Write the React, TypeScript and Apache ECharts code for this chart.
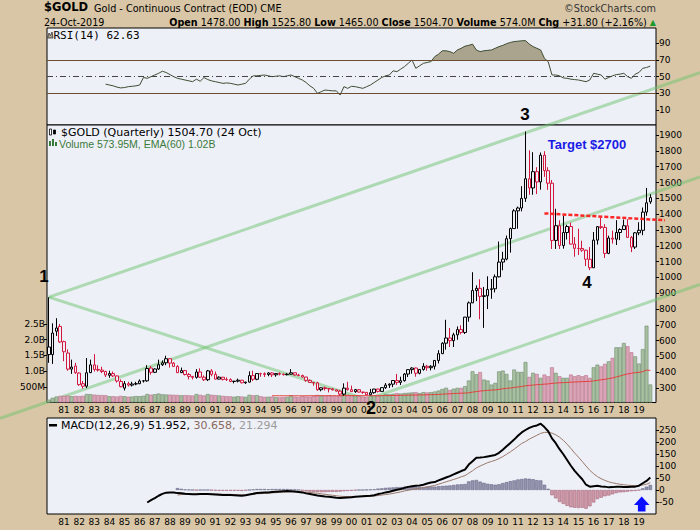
import React, { useEffect, useRef } from "react";
import * as echarts from "echarts";

// ---------------- DATA ----------------
const FIRST_YEAR = 1980;
const LAST_YEAR = 2019;

const OPEN = [
  560, 512, 660, 690, 594, 522, 420, 440, 395, 328, 312, 398, 447, 418, 414, 405,
  381, 392, 377, 342, 300, 328, 319, 326, 328, 345, 346, 427, 400, 421, 448, 460,
  486, 458, 437, 398, 411, 386, 374, 368, 402, 369, 353, 409, 387, 357, 369, 355,
  354, 342, 344, 350, 334, 338, 379, 356, 392, 391, 386, 396, 384, 392, 388, 385,
  388, 397, 383, 380, 370, 349, 336, 333, 290, 302, 297, 295, 289, 281, 262, 300,
  290, 278, 290, 275, 273, 258, 271, 294, 279, 303, 319, 325, 348, 336, 347, 389,
  417, 427, 394, 418, 438, 429, 438, 475, 518, 584, 617, 600, 637, 670, 652, 749,
  839, 917, 931, 880, 884, 924, 928, 1004, 1097, 1116, 1245, 1309, 1421, 1439, 1500, 1624,
  1566, 1669, 1604, 1773, 1675, 1596, 1234, 1327, 1202, 1284, 1322, 1211, 1184, 1183, 1172, 1115,
  1061, 1236, 1321, 1316, 1152, 1249, 1242, 1284, 1303, 1327, 1253, 1192, 1282, 1298, 1413, 1478,
];
const HIGH = [
  875, 710, 742, 705, 600, 545, 480, 460, 400, 345, 490, 480, 515, 445, 435, 410,
  410, 405, 380, 355, 345, 340, 340, 340, 355, 350, 445, 440, 425, 480, 475, 505,
  488, 465, 445, 430, 415, 395, 375, 420, 425, 380, 415, 420, 405, 375, 370, 368,
  362, 345, 360, 352, 340, 406, 410, 395, 397, 400, 400, 400, 395, 400, 392, 395,
  420, 398, 390, 385, 371, 355, 338, 340, 305, 310, 300, 300, 292, 290, 330, 340,
  316, 295, 293, 276, 275, 295, 295, 296, 305, 332, 330, 350, 390, 372, 395, 418,
  432, 430, 420, 458, 447, 445, 476, 540, 590, 732, 680, 650, 690, 697, 750, 848,
  1033, 950, 988, 940, 1007, 990, 1019, 1227, 1162, 1265, 1315, 1432, 1448, 1577, 1923, 1804,
  1792, 1697, 1790, 1798, 1697, 1616, 1434, 1361, 1392, 1333, 1346, 1255, 1308, 1232, 1175, 1192,
  1287, 1325, 1377, 1337, 1264, 1296, 1362, 1311, 1366, 1369, 1262, 1287, 1349, 1442, 1566, 1525.8,
];
const LOW = [
  460, 453, 630, 585, 470, 410, 390, 390, 315, 297, 300, 395, 405, 405, 395, 370,
  365, 370, 335, 305, 285, 310, 310, 318, 325, 335, 340, 385, 395, 415, 440, 445,
  430, 435, 395, 395, 380, 355, 355, 360, 365, 345, 345, 375, 355, 355, 348, 345,
  338, 330, 336, 330, 326, 335, 345, 350, 372, 370, 375, 370, 372, 380, 380, 380,
  385, 378, 375, 366, 340, 334, 315, 283, 280, 285, 273, 285, 280, 252, 252, 285,
  275, 270, 272, 264, 255, 255, 265, 272, 278, 295, 301, 306, 320, 320, 341, 370,
  391, 372, 387, 410, 410, 412, 418, 456, 515, 543, 560, 560, 606, 640, 642, 720,
  838, 850, 735, 681, 800, 865, 905, 1000, 1045, 1108, 1157, 1308, 1308, 1418, 1478, 1523,
  1523, 1527, 1555, 1636, 1554, 1180, 1180, 1180, 1182, 1240, 1208, 1131, 1142, 1162, 1072, 1046,
  1060, 1208, 1306, 1123, 1147, 1214, 1205, 1236, 1303, 1250, 1160, 1180, 1267, 1267, 1390, 1465,
];
const CLOSE = [
  512, 648, 680, 592, 530, 420, 433, 398, 322, 312, 397, 447, 418, 414, 405, 383,
  392, 377, 345, 309, 328, 319, 326, 328, 345, 346, 424, 400, 421, 448, 460, 486,
  458, 437, 398, 411, 386, 374, 368, 402, 369, 353, 409, 387, 357, 369, 355, 354,
  342, 344, 350, 334, 338, 379, 356, 392, 391, 386, 396, 384, 392, 388, 385, 388,
  397, 383, 380, 370, 349, 336, 333, 290, 302, 297, 295, 289, 281, 262, 300, 290,
  278, 290, 275, 273, 258, 271, 294, 279, 303, 319, 325, 348, 336, 347, 389, 417,
  427, 394, 418, 438, 429, 438, 475, 518, 584, 617, 600, 637, 670, 652, 749, 839,
  917, 931, 880, 884, 924, 928, 1004, 1097, 1116, 1245, 1309, 1421, 1439, 1500, 1624, 1566,
  1669, 1604, 1773, 1675, 1596, 1234, 1327, 1202, 1284, 1322, 1211, 1184, 1183, 1172, 1115, 1061,
  1236, 1321, 1316, 1152, 1249, 1242, 1284, 1303, 1327, 1253, 1192, 1282, 1298, 1413, 1472, 1504.7,
];
// quarterly volume, millions
const VOLUME = [
  90, 150, 190, 210, 215, 220, 200, 210, 205, 215, 270, 265, 250, 240, 235, 230,
  200, 200, 190, 210, 200, 185, 190, 205, 200, 215, 270, 250, 265, 285, 260, 255,
  250, 245, 240, 230, 235, 230, 220, 270, 245, 225, 270, 245, 235, 225, 210, 200,
  195, 185, 200, 190, 180, 245, 230, 235, 200, 180, 185, 190, 170, 165, 170, 175,
  230, 185, 175, 200, 190, 185, 210, 240, 220, 200, 230, 210, 200, 220, 280, 250,
  220, 215, 200, 190, 185, 200, 220, 200, 230, 270, 260, 280, 300, 285, 300, 310,
  320, 330, 300, 330, 320, 330, 350, 380, 430, 470, 400, 440, 466, 466, 520, 700,
  995, 900, 970, 730, 700, 570, 625, 990, 1015, 910, 700, 1050, 975, 975, 1290, 815,
  945, 910, 785, 890, 835, 1120, 945, 835, 785, 785, 890, 835, 870, 835, 870, 785,
  1120, 1205, 1150, 1230, 1310, 1420, 1757, 1757, 1894, 1790, 1600, 1470, 1240, 1700, 2445, 574,
];
const VOL_EMA_START = 59;
const VOL_EMA = [
  215,
  215, 214, 213, 213, 214, 214, 213, 213, 213, 214,
  215, 216, 216, 216, 217, 217, 217, 217, 219, 220,
  220, 220, 219, 218, 217, 217, 217, 217, 218, 220,
  221, 223, 226, 228, 230, 233, 236, 239, 241, 244,
  247, 250, 253, 258, 265, 273, 278, 285, 291, 297,
  300, 310, 330, 347, 365, 375, 388, 394, 400, 418,
  436, 451, 460, 478, 494, 509, 534, 543, 556, 567,
  574, 584, 592, 609, 620, 627, 632, 638, 646, 652,
  658, 664, 670, 674, 688, 705, 722, 740, 760, 782,
  814, 845, 880, 910, 932, 950, 960, 983, 1032, 1020,
];
const RSI_START = 15;
const RSI = [
  41, 40, 39, 37.5, 36.5, 37, 38, 38.5, 39, 40,
  49, 48, 50, 52, 54, 56.5, 55, 52.5, 50, 48,
  47, 46, 45, 44, 47, 44.5, 49, 46.5, 45, 44,
  43, 42, 42.5, 42, 41, 40, 41, 42, 47, 51,
  51, 51.5, 52, 51, 50, 50.5, 51, 50, 51, 52,
  50, 48, 46, 43, 39, 36, 30, 32, 34, 33.5,
  33, 33, 28, 38, 36, 38.5, 38, 37, 36, 38,
  40, 43, 46, 49, 51, 52, 57, 56, 59, 62,
  66, 70, 60, 63, 66, 67, 68, 74, 77, 81,
  81, 80, 78, 82, 84, 86.5, 87.5, 89, 82, 80,
  81, 81.5, 82, 84, 86, 87.5, 89.5, 91, 92, 92.5,
  93, 93.2, 89, 86, 84, 82, 72, 68, 52, 52,
  51, 48.5, 48, 47, 46.5, 46, 45, 44, 46, 54,
  53, 52, 47, 49, 51, 52.5, 53, 54, 50, 48,
  53, 55, 60, 61, 62.63,
];
const MACD_START = 26;
const MACD = [
  -52, -42, -34, -24, -16, -11, -10, -10, -13, -14,
  -16, -17, -18, -18, -17, -17, -17, -18, -19, -20,
  -21, -21, -21, -22, -23, -24, -22, -19, -16, -12,
  -11, -10, -10, -8, -7, -6, -5, -4, -5, -6,
  -8, -10, -14, -17, -20, -23, -25, -27, -28, -30,
  -32, -33, -32, -31, -30, -28, -27, -26, -25, -24,
  -22, -17, -14, -10, -7, -3, 1, 4, 9, 13,
  16, 18, 19, 22, 27, 31, 33, 40, 46, 52,
  58, 65, 72, 79, 85, 106, 120, 134, 135, 137,
  140, 143, 146, 155, 168, 182, 196, 210, 226, 240,
  250, 259, 265, 269, 276, 262, 245, 215, 195, 170,
  149, 125, 101, 80, 62, 45, 22, 14, 16, 18,
  15, 14, 11, 12, 14, 14, 13, 13, 14, 14,
  18, 28, 38, 51.952,
];
const SIGNAL_START = 34;
const SIGNAL = [
  -21, -19, -18, -18, -18, -17, -17, -17, -17, -17,
  -17, -17, -18, -18, -18, -19, -20, -20, -20, -19,
  -18, -16, -15, -14, -13, -12, -11, -10, -9, -8,
  -8, -8, -8, -8, -9, -10, -12, -14, -16, -18,
  -20, -22, -24, -26, -27, -27, -27, -27, -27, -26,
  -26, -26, -25, -23, -21, -19, -17, -14, -11, -8,
  -4, -1, 2, 5, 7, 10, 13, 16, 19, 24,
  29, 34, 39, 44, 49, 55, 60, 70, 80, 92,
  100, 107, 114, 119, 124, 131, 139, 149, 159, 170,
  182, 194, 202, 212, 220, 228, 236, 240, 240, 237,
  230, 220, 207, 191, 173, 154, 137, 119, 100, 82,
  68, 56, 47, 40, 34, 30, 27, 24, 22, 20,
  19, 18, 19, 21, 24, 30.658,
];
const HIST = [
  8, 5, 2, 1, 0, -1, 0, 0, 0, -1,
  -2, -3, -3, -3, -3, -3, -3, -4, -2, 0,
  2, 4, 4, 4, 3, 4, 4, 4, 4, 4,
  3, 2, 0, -2, -5, -7, -8, -9, -9, -9,
  -8, -8, -8, -7, -5, -4, -3, -1, 0, 0,
  1, 2, 3, 6, 7, 9, 10, 11, 12, 12,
  13, 14, 14, 13, 12, 12, 14, 15, 14, 16,
  17, 18, 19, 21, 23, 24, 25, 36, 40, 42,
  35, 30, 26, 24, 22, 24, 29, 33, 37, 40,
  44, 46, 48, 47, 45, 41, 40, 22, 5, -22,
  -35, -50, -58, -66, -72, -74, -75, -74, -78, -68,
  -52, -38, -32, -26, -23, -18, -13, -10, -9, -7,
  -5, -4, -1, 7, 14, 21.294,
];

const PRICE_TICKS = [300, 400, 500, 600, 700, 800, 900, 1000, 1100, 1200, 1300, 1400, 1500, 1600, 1700, 1800, 1900];
const VOLUME_TICKS = [500, 1000, 1500, 2000, 2500];
const RSI_TICKS = [10, 30, 50, 70, 90];
const MACD_TICKS = [-50, 0, 50, 100, 150, 200, 250];

// trend-line anchors: [quarter index, price]
const TREND_SLOPE = 8.25; // $ per quarter
const POINT_1 = [0, 875];
const POINT_2 = [84, 228];
const MID_ANCHOR = [0, 215];
const NECKLINE = [[131, 1405], [159, 1367]];

// ---------------- STYLE ----------------
const BG = "#d8c6a6";
const PANEL = "#eef0f8";
const RED = "#d4173f";
const DV = '"DejaVu Sans", Verdana, sans-serif';
const DVM = '"DejaVu Sans Mono", monospace';
const AR = '"Liberation Sans", Arial, sans-serif';
const GREEN_LINE = "rgba(110, 195, 110, 0.5)";

export default function App() {
  const ref = useRef<HTMLDivElement>(null);

  useEffect(() => {
    const chart = echarts.init(ref.current as HTMLDivElement, null, { renderer: "svg" });

    const cats: string[] = [];
    for (let y = FIRST_YEAR; y <= LAST_YEAR; y++) for (let q = 1; q <= 4; q++) cats.push(`${y} Q${q}`);
    cats.push("");

    const pad = (start: number, arr: any[]) => [...Array(start).fill("-"), ...arr];

    const upFlag = CLOSE.map((c, i) => i === 0 || c >= CLOSE[i - 1]);

    const candles = OPEN.map((o, i) => {
      const col = upFlag[i] ? "#000" : RED;
      return {
        value: [o, CLOSE[i], LOW[i], HIGH[i]],
        itemStyle: { color: PANEL, color0: col, borderColor: col, borderColor0: col, borderWidth: 1 },
      };
    });
    const vols = VOLUME.map((v, i) => ({
      value: v,
      itemStyle: {
        color: upFlag[i] ? "#a9c0a0" : "#dca5b7",
        borderColor: upFlag[i] ? "#6c8c6c" : "#b57489",
        borderWidth: 0.6,
      },
    }));
    const hist = pad(
      SIGNAL_START,
      HIST.map((h) => ({
        value: h,
        itemStyle: {
          color: h >= 0 ? "#9494ae" : "#cf9aa8",
          borderColor: h >= 0 ? "#6a6a88" : "#a8687c",
          borderWidth: 0.6,
        },
      }))
    );
    const rsiFull = pad(RSI_START, RSI);
    const rsiBase = pad(RSI_START, RSI.map((v) => Math.min(v, 70)));
    const rsiOver = pad(RSI_START, RSI.map((v) => Math.max(v - 70, 0)));

    const axisText = { color: "#000", fontSize: 9, fontFamily: DV };
    const plain = (v: number) => String(v);
    const yearInterval = (_i: number, v: string) => v.endsWith("Q1") && v >= "1981";
    const gridBase = { left: 47, right: 44, show: true, backgroundColor: PANEL, borderColor: "#000", borderWidth: 1 };

    const option: any = {
      animation: false,
      backgroundColor: BG,
      grid: [
        { ...gridBase, top: 28, height: 97 },
        { ...gridBase, top: 125, height: 277.5 },
        { ...gridBase, top: 418, height: 96 },
      ],
      xAxis: [0, 1, 2].map((g) => ({
        type: "category",
        gridIndex: g,
        data: cats,
        boundaryGap: true,
        axisLine: { show: false },
        axisTick: { show: false },
        splitLine: { show: false },
        axisLabel:
          g === 0
            ? { show: false }
            : { ...axisText, interval: yearInterval, formatter: (v: string) => v.slice(2, 4), margin: 3 },
      })),
      yAxis: [
        {
          type: "value", gridIndex: 0, position: "right", min: -7.9, max: 108.3,
          axisLine: { show: false }, splitLine: { show: false },
          axisTick: { show: true, length: 3, customValues: RSI_TICKS, lineStyle: { color: "#000" } },
          axisLabel: { ...axisText, customValues: RSI_TICKS, margin: 3, formatter: plain },
        },
        {
          type: "value", gridIndex: 1, position: "right", min: 209, max: 1964,
          axisLine: { show: false }, splitLine: { show: false },
          axisTick: { show: true, length: 3, customValues: PRICE_TICKS, lineStyle: { color: "#000" } },
          axisLabel: { ...axisText, customValues: PRICE_TICKS, margin: 3, formatter: plain },
        },
        {
          type: "value", gridIndex: 1, position: "left", min: 0, max: 8835,
          axisLine: { show: false }, splitLine: { show: false },
          axisTick: { show: true, length: 3, customValues: VOLUME_TICKS, lineStyle: { color: "#000" } },
          axisLabel: {
            ...axisText, customValues: VOLUME_TICKS, margin: 2,
            formatter: (v: number) => (v < 1000 ? `${v}M` : `${(v / 1000).toFixed(1)}B`),
          },
        },
        {
          type: "value", gridIndex: 2, position: "right", min: -100, max: 300,
          axisLine: { show: false }, splitLine: { show: false },
          axisTick: { show: true, length: 3, customValues: MACD_TICKS, lineStyle: { color: "#000" } },
          axisLabel: { ...axisText, customValues: MACD_TICKS, margin: 3, formatter: plain },
        },
      ],
      series: [
        {
          type: "line", xAxisIndex: 0, yAxisIndex: 0, data: rsiBase, stack: "rsi", symbol: "none",
          lineStyle: { opacity: 0 }, silent: true, z: 2,
        },
        {
          type: "line", xAxisIndex: 0, yAxisIndex: 0, data: rsiOver, stack: "rsi", symbol: "none",
          lineStyle: { opacity: 0 }, areaStyle: { color: "#aaa48f", opacity: 1 }, silent: true, z: 2,
        },
        {
          type: "line", xAxisIndex: 0, yAxisIndex: 0, data: rsiFull, symbol: "none", z: 3,
          lineStyle: { color: "#3e4d32", width: 1 },
          markLine: {
            silent: true, symbol: "none", label: { show: false },
            data: [
              { yAxis: 70, lineStyle: { color: "#6b4c2e", type: "solid", width: 1 } },
              { yAxis: 30, lineStyle: { color: "#6b4c2e", type: "solid", width: 1 } },
              { yAxis: 50, lineStyle: { color: "#444", type: [6, 3, 1, 3], width: 1 } },
            ],
          },
        },
        {
          type: "bar", xAxisIndex: 1, yAxisIndex: 2, data: vols, barCategoryGap: "0%", barGap: "0%", z: 2,
        },
        {
          type: "line", xAxisIndex: 1, yAxisIndex: 2, data: pad(VOL_EMA_START, VOL_EMA), symbol: "none", z: 3,
          lineStyle: { color: "#e4403c", width: 1 },
        },
        { type: "candlestick", xAxisIndex: 1, yAxisIndex: 1, data: candles, barWidth: 3, z: 4 },
        { type: "bar", xAxisIndex: 2, yAxisIndex: 3, data: hist, barCategoryGap: "8%", z: 2 },
        {
          type: "line", xAxisIndex: 2, yAxisIndex: 3, data: pad(SIGNAL_START, SIGNAL), symbol: "none", z: 3,
          lineStyle: { color: "#9a7868", width: 1 },
        },
        {
          type: "line", xAxisIndex: 2, yAxisIndex: 3, data: pad(MACD_START, MACD), symbol: "none", z: 4,
          lineStyle: { color: "#000", width: 2 },
        },
      ],
    };
    chart.setOption(option);

    // ---- annotations ----
    const toPx = (d: number[]) => chart.convertToPixel({ xAxisIndex: 1, yAxisIndex: 1 }, d) as number[];
    const yAt = (a: number[], b: number[], x: number) => a[1] + ((b[1] - a[1]) * (x - a[0])) / (b[0] - a[0]);
    const along = (p: number[], i: number) => [i, p[1] + TREND_SLOPE * (i - p[0])];

    const p1 = toPx(POINT_1);
    const p1far = toPx(along(POINT_1, 159));
    const p2 = toPx(POINT_2);
    const p2far = toPx(along(POINT_2, 159));
    const m0 = toPx(MID_ANCHOR);
    const mfar = toPx(along(MID_ANCHOR, 159));
    const n0 = toPx(NECKLINE[0]);
    const n1 = toPx(NECKLINE[1]);

    const gline = (x1: number, y1: number, x2: number, y2: number) => ({
      type: "line", z: 1, silent: true,
      shape: { x1, y1, x2, y2 },
      style: { stroke: GREEN_LINE, lineWidth: 3 },
    });
    const txt = (text: string, x: number, y: number, font: string, fill = "#000", align = "left", va = "top") => ({
      type: "text", x, y, z: 50, silent: true,
      style: { text, font, fill, align, verticalAlign: va, textAlign: align, textVerticalAlign: va },
    });

    const graphic: any[] = [
      gline(p1[0], p1[1], 700, yAt(p1, p1far, 700)),
      gline(p1[0], p1[1], p2[0], p2[1]),
      gline(0, yAt(m0, mfar, 0), 700, yAt(m0, mfar, 700)),
      gline(p2[0], p2[1], 700, yAt(p2, p2far, 700)),
      {
        type: "line", z: 30, silent: true,
        shape: { x1: n0[0], y1: n0[1], x2: 665, y2: yAt(n0, n1, 665) },
        style: { stroke: "#ff2626", lineWidth: 2.5, lineDash: [4, 2] },
      },
      // header
      txt("$GOLD", 44, 1, `bold 11.5px ${DV}`),
      txt("Gold - Continuous Contract (EOD) CME", 94, 3, `9.7px ${DV}`),
      txt("©StockCharts.com", 656, 3, `9.7px ${DV}`, "#333", "right"),
      txt("24-Oct-2019", 44, 17, `9.6px ${DV}`),
      {
        type: "text", x: 656, y: 17, z: 50, silent: true,
        style: {
          text: "{b|Open} 1478.00 {b|High} 1525.80 {b|Low} 1465.00 {b|Close} 1504.70 {b|Volume} 574.0M {b|Chg} +31.80 (+2.16%) {g|▲}",
          font: `9.6px ${DV}`, fill: "#000", align: "right", textAlign: "right", verticalAlign: "top", textVerticalAlign: "top",
          rich: { b: { font: `bold 9.6px ${DV}`, fill: "#000" }, g: { font: `8px ${DV}`, fill: "#1a9a2a" } },
        },
      },
      // panel legends
      {
        type: "polygon", z: 50, silent: true,
        shape: { points: [[47.5, 38], [49, 33], [50.5, 35.5], [52, 32], [53, 38]] },
        style: { fill: "#aaa48f", stroke: "#333", lineWidth: 0.8 },
      },
      txt("RSI(14) 62.63", 53.5, 30, `11px ${DVM}`),
      { type: "rect", z: 50, silent: true, shape: { x: 49.5, y: 129, width: 2, height: 6 }, style: { fill: "#fff", stroke: "#000", lineWidth: 0.8 } },
      { type: "rect", z: 50, silent: true, shape: { x: 53.5, y: 130, width: 2, height: 4 }, style: { fill: "#000", stroke: "#000", lineWidth: 0.8 } },
      txt("$GOLD (Quarterly) 1504.70 (24 Oct)", 61, 127, `11px ${DV}`),
      { type: "rect", z: 50, silent: true, shape: { x: 49, y: 141, width: 2, height: 5 }, style: { fill: "#3a7a3a" } },
      { type: "rect", z: 50, silent: true, shape: { x: 52, y: 139, width: 2, height: 7 }, style: { fill: "#3a7a3a" } },
      { type: "rect", z: 50, silent: true, shape: { x: 55, y: 142, width: 2, height: 4 }, style: { fill: "#3a7a3a" } },
      txt("Volume 573.95M, EMA(60) 1.02B", 59, 138.5, `10.5px ${AR}`, "#3a7a3a"),
      { type: "rect", z: 50, silent: true, shape: { x: 49, y: 424, width: 8, height: 2.5 }, style: { fill: "#000" } },
      {
        type: "text", x: 61, y: 420, z: 50, silent: true,
        style: {
          text: "MACD(12,26,9) 51.952, {s|30.658,} {h|21.294}",
          font: `11px ${DV}`, fill: "#000",
          rich: { s: { font: `11px ${DV}`, fill: "#8a6a5c" }, h: { font: `11px ${DV}`, fill: "#9a9a9a" } },
        },
      },
      // wave labels
      txt("1", 44, 276, `bold 17px ${AR}`, "#000", "center", "middle"),
      txt("2", 371, 408, `bold 18px ${AR}`, "#000", "center", "middle"),
      txt("3", 525, 114, `bold 17px ${AR}`, "#000", "center", "middle"),
      txt("4", 587, 282, `bold 17px ${AR}`, "#000", "center", "middle"),
      txt("Target $2700", 587, 144, `bold 13px ${AR}`, "#1a1ae6", "center", "middle"),
      {
        type: "polygon", z: 50, silent: true,
        shape: { points: [[641.7, 496.5], [649.5, 505], [645.5, 505], [645.5, 511.5], [637.9, 511.5], [637.9, 505], [634, 505]] },
        style: { fill: "#0a10ff" },
      },
    ];
    chart.setOption({ graphic });

    return () => chart.dispose();
  }, []);

  return <div ref={ref} style={{ position: "fixed", left: 0, top: 0, width: 700, height: 530 }} />;
}
